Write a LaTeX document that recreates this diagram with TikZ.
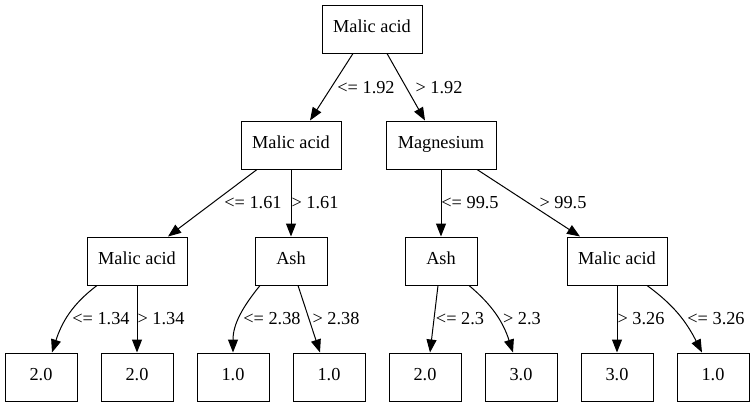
\documentclass[tikz,border=0pt]{standalone}
\usepackage{fontspec}
\setmainfont{Liberation Serif}
\usetikzlibrary{arrows.meta}
\begin{document}
\begin{tikzpicture}[x=1pt,y=-1pt,
  box/.style={draw,line width=1pt,minimum height=48pt,inner sep=0pt,
    font=\fontsize{18.3}{20}\selectfont,text height=0.75em,text depth=0.05em},
  wide/.style={box,minimum width=100pt},
  leaf/.style={box,minimum width=72pt},
  lbl/.style={inner sep=0pt,font=\fontsize{18.3}{20}\selectfont},
  edge/.style={line width=1pt,-{Triangle[length=13pt,width=10pt]}}]
\useasboundingbox (0,0) rectangle (755,407);
% nodes
\node[wide] (root) at (372,29) {Malic acid};
\node[wide] (ma1) at (291,145) {Malic acid};
\node[box,minimum width=110pt] (mag) at (441,145) {Magnesium};
\node[wide] (ma2) at (137,261) {Malic acid};
\node[leaf] (ash1) at (291,261) {Ash};
\node[leaf] (ash2) at (441,261) {Ash};
\node[wide] (ma3) at (617,261) {Malic acid};
\node[leaf] (l1) at (41,377) {2.0};
\node[leaf] (l2) at (137,377) {2.0};
\node[leaf] (l3) at (233,377) {1.0};
\node[leaf] (l4) at (329,377) {1.0};
\node[leaf] (l5) at (425,377) {2.0};
\node[leaf] (l6) at (521,377) {3.0};
\node[leaf] (l7) at (617,377) {3.0};
\node[leaf] (l8) at (713,377) {1.0};
% edges
\draw[edge] ([xshift=-19pt]root.south) -- ([xshift=19pt]ma1.north);
\draw[edge] ([xshift=15pt]root.south) -- ([xshift=-16pt]mag.north);
\draw[edge] ([xshift=-34pt]ma1.south) -- ([xshift=31pt]ma2.north);
\draw[edge] (ma1.south) -- (ash1.north);
\draw[edge] (mag.south) -- (ash2.north);
\draw[edge] ([xshift=36pt]mag.south) -- ([xshift=-37pt]ma3.north);
\draw[edge] ([xshift=-40pt]ma2.south) to[out=217,in=72] ([xshift=11pt]l1.north);
\draw[edge] (ma2.south) -- (l2.north);
\draw[edge] ([xshift=-31pt]ash1.south) to[out=231,in=90] (l3.north);
\draw[edge] ([xshift=7pt]ash1.south) -- ([xshift=-9pt]l4.north);
\draw[edge] ([xshift=-3pt]ash2.south) -- ([xshift=5pt]l5.north);
\draw[edge] ([xshift=28pt]ash2.south) to[out=-40,in=108] ([xshift=-8pt]l6.north);
\draw[edge] (ma3.south) -- (l7.north);
\draw[edge] ([xshift=30pt]ma3.south) to[out=-36,in=117] ([xshift=-11pt]l8.north);
% labels
\node[lbl] (t1) at (366,88) {<= 1.92};
\node[lbl] (t2) at (439,88) {> 1.92};
\node[lbl] (t3) at (253,203) {<= 1.61};
\node[lbl] (t4) at (315,203) {> 1.61};
\node[lbl] (t5) at (470,203) {<= 99.5};
\node[lbl] (t6) at (563,203) {> 99.5};
\node[lbl] (t7) at (101,319) {<= 1.34};
\node[lbl] (t8) at (161,319) {> 1.34};
\node[lbl] (t9) at (272,319) {<= 2.38};
\node[lbl] (t10) at (336,319) {> 2.38};
\node[lbl] (t11) at (460,319) {<= 2.3};
\node[lbl] (t12) at (522,319) {> 2.3};
\node[lbl] (t13) at (641,319) {> 3.26};
\node[lbl] (t14) at (716,319) {<= 3.26};
\end{tikzpicture}
\end{document}
